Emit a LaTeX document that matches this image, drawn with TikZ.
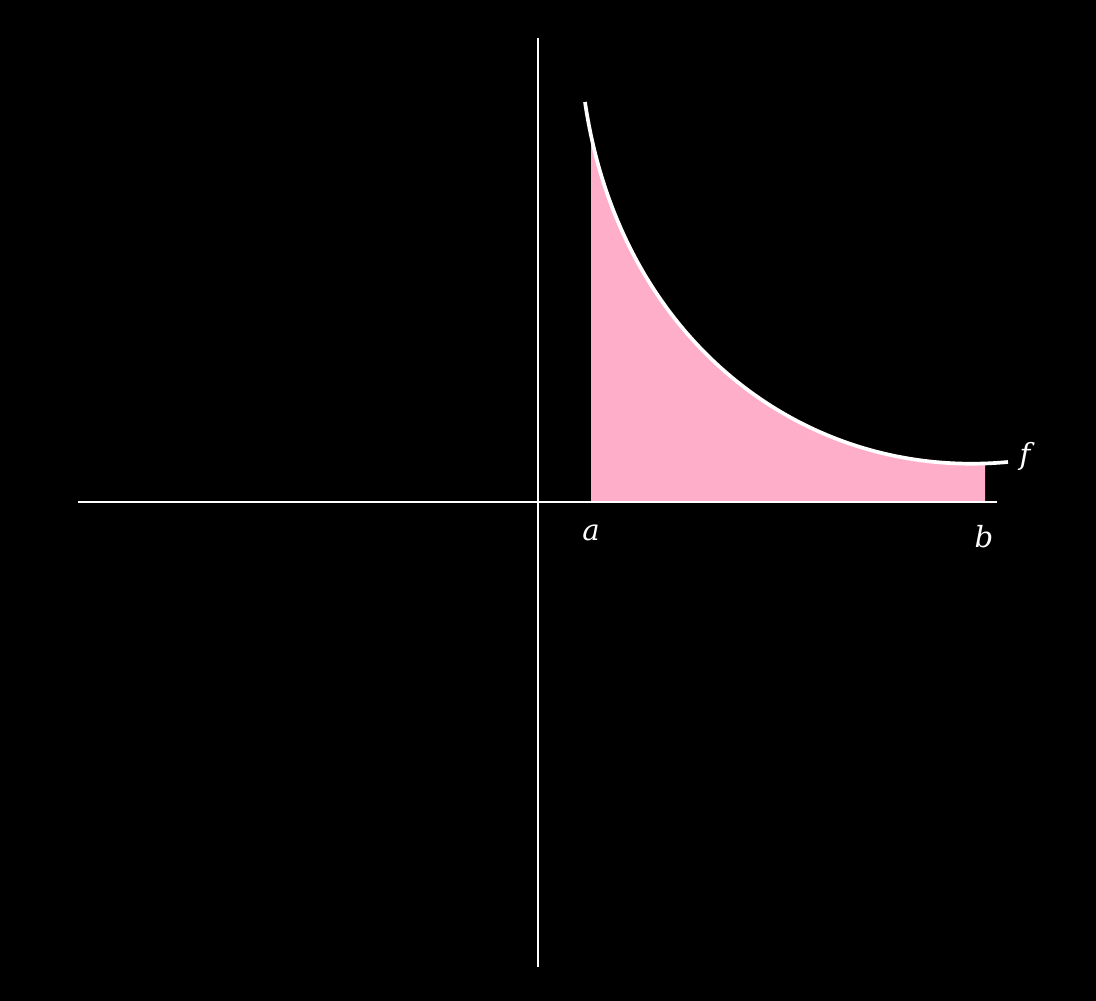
\documentclass[tikz,border=0pt]{standalone}
\usepackage{fontspec}
\usepackage{xcolor}
\usetikzlibrary{positioning}
\newfontfamily\lblfont{DejaVu Serif}
\definecolor{areapink}{RGB}{255, 174, 201}
\tikzset{
  axisline/.style  = {draw=white, line width=0.6pt},
  curveline/.style = {draw=white, line width=1.05pt},
  area/.style      = {fill=areapink},
  lbl/.style       = {text=white, font=\lblfont\itshape\fontsize{8.3}{10}\selectfont, inner sep=0pt},
}
\begin{document}
\begin{tikzpicture}

% Hintergrund
\fill[black] (0,0) rectangle (10.96,10.01);
\useasboundingbox (0,0) rectangle (10.96,10.01);

% Punkte
\coordinate (xl) at (0.78,4.99);
\coordinate (xr) at (9.97,4.99);
\coordinate (yt) at (5.38,9.63);
\coordinate (yb) at (5.38,0.34);
\coordinate (fs) at (5.85,8.99);
\coordinate (fe) at (10.08,5.39);

% Flaeche unter f zwischen a und b
\begin{scope}
  \clip (5.91,4.99) rectangle (9.85,9.6);
  \fill[area] (fs) .. controls (6.20,6.60) and (8.05,5.20) .. (fe) -- (10.08,4.99) -- (5.85,4.99) -- cycle;
\end{scope}

% Achsen
\draw[axisline] (xl) -- (xr);
\draw[axisline] (yt) -- (yb);

% Graph von f
\draw[curveline] (fs) .. controls (6.20,6.60) and (8.05,5.20) .. (fe);

% Beschriftung
\node[lbl] (la) at (5.91,4.68) {a};
\node[lbl] (lb) at (9.84,4.64) {b};
\node[lbl] (lf) at (10.25,5.45) {f};

\end{tikzpicture}
\end{document}
